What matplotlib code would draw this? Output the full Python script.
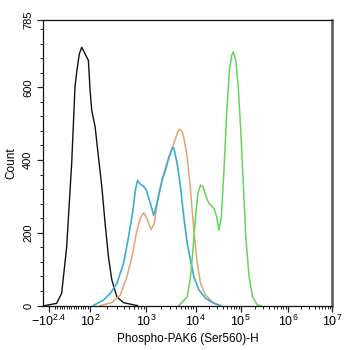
import numpy as np
import matplotlib
matplotlib.use("Agg")
import matplotlib.pyplot as plt
from matplotlib.ticker import FixedLocator, FixedFormatter, NullFormatter

plt.rcParams['font.family'] = ['Liberation Sans', 'DejaVu Sans']
plt.rcParams['mathtext.fontset'] = 'custom'
plt.rcParams['mathtext.rm'] = 'Liberation Sans'
plt.rcParams['mathtext.it'] = 'Liberation Sans'

# ---- histogram data (fluorescence intensity vs. event count) ----
# unstained control, intensities in linear units
black_x = [-285, -185, -142, -99.5, -56.7, -28.4, -13.9, 8.4, 29, 57, 85.5, 100,
           107, 123, 141, 162, 185, 212, 244, 300, 393, 518, 637, 700]
black_y = [0, 6, 34, 161, 391, 601, 642, 692, 710, 692, 674, 592,
           537, 491, 408, 326, 226, 134, 70, 24, 8, 4, 1, 0]

# stained samples, intensities given as log10 values
blue_logx = [2.059, 2.238, 2.357, 2.477, 2.595, 2.684, 2.763, 2.804, 2.845, 2.893,
             2.952, 3.000, 3.082, 3.149, 3.218, 3.320, 3.388, 3.455, 3.524, 3.557,
             3.627, 3.694, 3.761, 3.831, 3.898, 3.965, 4.073, 4.222, 4.407, 4.556]
blue_y = [0, 15, 33, 61, 116, 189, 262, 317, 344, 334,
          328, 317, 281, 248, 281, 344, 372, 404, 432, 434,
          390, 326, 244, 171, 125, 79, 43, 20, 6, 0]

orange_logx = [2.179, 2.388, 2.536, 2.655, 2.745, 2.834, 2.893, 2.952, 3.014, 3.096,
               3.163, 3.251, 3.353, 3.455, 3.557, 3.640, 3.678, 3.729, 3.761, 3.831,
               3.898, 3.965, 4.038, 4.111, 4.222, 4.371, 4.518]
orange_y = [0, 8, 29, 79, 134, 207, 239, 255, 239, 209,
            226, 308, 363, 408, 445, 478, 485, 477, 463, 408,
            317, 207, 116, 61, 29, 10, 0]

green_logx = [3.659, 3.831, 3.898, 3.953, 4.000, 4.051, 4.111, 4.171, 4.222, 4.296,
              4.407, 4.467, 4.518, 4.571, 4.629, 4.689, 4.749, 4.800, 4.838, 4.889,
              4.940, 5.000, 5.057, 5.106, 5.177, 5.249, 5.355, 5.426]
green_y = [0, 24, 79, 161, 244, 308, 331, 326, 303, 281,
           267, 244, 207, 244, 372, 528, 646, 688, 697, 674,
           610, 482, 326, 189, 79, 24, 1, 0]

# axis tick labels
xtick_vals = [-251, 100, 1e3, 1e4, 1e5, 1e6, 1e7]
xtick_labels = [r'$-10^{2.4}$', r'$10^{2}$', r'$10^{3}$', r'$10^{4}$',
                r'$10^{5}$', r'$10^{6}$', r'$10^{7}$']
ytick_vals = [0, 200, 400, 600, 785]
ytick_labels = ['0', '200', '400', '600', '785']

# ---- biexponential-like display scale: linear near zero, log above 10^2 ----
_L = np.array([2, 3, 4, 5, 6, 7, 8], float)
_P = np.array([90, 146, 195, 240, 287, 331, 375], float)
_SLOPE = 41.0 / 351.0


def forward(x):
    x = np.asarray(x, float)
    lin = 90 + (x - 100) * _SLOPE
    lg = np.interp(np.log10(np.maximum(x, 100)), _L, _P)
    return np.where(x <= 100, lin, lg)


def inverse(p):
    p = np.asarray(p, float)
    lin = 100 + (p - 90) / _SLOPE
    lg = 10 ** np.interp(np.maximum(p, 90), _P, _L)
    return np.where(p <= 90, lin, lg)


fig = plt.figure(figsize=(3.46, 3.5), dpi=100)
ax = fig.add_axes([0.124, 0.127, 0.836, 0.816])
ax.set_xscale('function', functions=(forward, inverse))

ax.plot(black_x, black_y, color='#111111', lw=1.0)
ax.plot(10 ** np.array(orange_logx), orange_y, color='#e0a574', lw=1.1)
ax.plot(10 ** np.array(blue_logx), blue_y, color='#38aed2', lw=1.2)
ax.plot(10 ** np.array(green_logx), green_y, color='#62d45a', lw=1.1)

ax.set_xlim(-302, 1e7)
ax.set_ylim(0, 785)

# x ticks
ax.xaxis.set_major_locator(FixedLocator(xtick_vals))
ax.xaxis.set_major_formatter(FixedFormatter(xtick_labels))
minor_x = list(range(-200, 100, 20))
for d in range(2, 7):
    minor_x += [k * 10 ** d for k in range(2, 10)]
ax.xaxis.set_minor_locator(FixedLocator(minor_x))
ax.xaxis.set_minor_formatter(NullFormatter())

# y ticks
ax.yaxis.set_major_locator(FixedLocator(ytick_vals))
ax.yaxis.set_major_formatter(FixedFormatter(ytick_labels))
ax.yaxis.set_minor_locator(FixedLocator([v for v in range(40, 785, 40) if v % 200]))

ax.tick_params(axis='both', which='major', direction='out', length=4, width=0.9,
               color='#222222')
ax.tick_params(axis='both', which='minor', direction='out', length=2, width=0.7,
               color='#222222')
ax.tick_params(axis='x', which='major', labelsize=9, pad=2)
ax.tick_params(axis='y', which='major', labelsize=8, pad=3)
for lab in ax.get_yticklabels():
    lab.set_rotation(90)
    lab.set_va('center')

for side in ('left', 'bottom', 'top'):
    ax.spines[side].set_color('#111111')
    ax.spines[side].set_linewidth(0.9)
ax.spines['right'].set_color('#555555')
ax.spines['right'].set_linewidth(1.8)

ax.set_xlabel('Phospho-PAK6 (Ser560)-H', fontsize=8.5, labelpad=3)
ax.set_ylabel('Count', fontsize=8.5, labelpad=4)

fig.savefig('out.png', dpi=100)
